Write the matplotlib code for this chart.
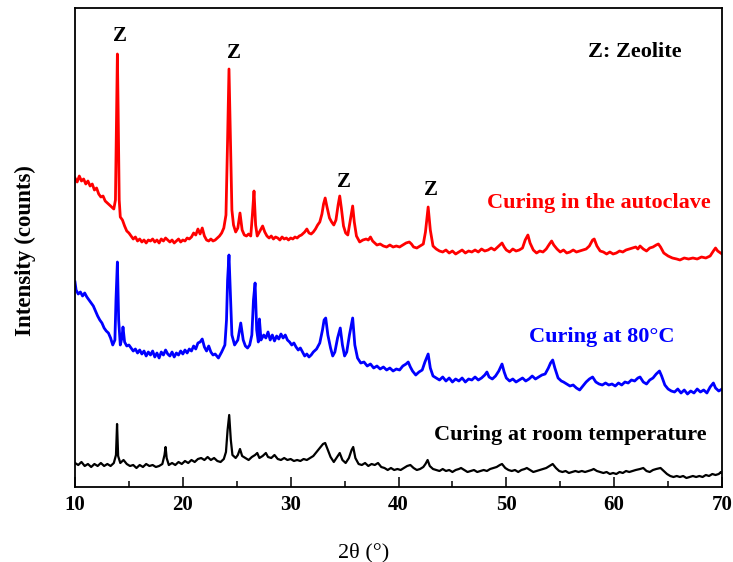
import matplotlib
matplotlib.use("Agg")
import matplotlib.pyplot as plt
from matplotlib.ticker import MultipleLocator

plt.rcParams['font.family'] = ['Liberation Serif', 'DejaVu Serif']

# ---- data: 2theta (deg) and intensity (counts, a.u.) ----
autoclave_2theta = [10.0, 10.2, 10.4, 10.6, 10.8, 11.0, 11.2, 11.4, 11.6, 11.8, 12.0, 12.2, 12.4, 12.6, 12.8, 13.0, 13.2, 13.4, 13.6, 13.75, 13.85, 13.93, 14.0, 14.1, 14.2, 14.4, 14.6, 14.8, 15.0, 15.2, 15.4, 15.6, 15.8, 16.0, 16.2, 16.4, 16.6, 16.8, 17.0, 17.2, 17.4, 17.6, 17.8, 18.0, 18.2, 18.4, 18.6, 18.8, 19.0, 19.2, 19.4, 19.6, 19.8, 20.0, 20.2, 20.4, 20.6, 20.8, 21.0, 21.2, 21.4, 21.6, 21.8, 22.0, 22.2, 22.4, 22.6, 22.8, 23.0, 23.2, 23.4, 23.6, 23.8, 24.0, 24.15, 24.28, 24.4, 24.55, 24.7, 24.9, 25.1, 25.3, 25.5, 25.7, 25.9, 26.1, 26.3, 26.45, 26.6, 26.75, 26.9, 27.1, 27.4, 27.6, 27.8, 28.0, 28.2, 28.4, 28.6, 28.8, 29.0, 29.2, 29.4, 29.6, 29.8, 30.0, 30.2, 30.4, 30.6, 30.8, 31.0, 31.3, 31.5, 31.7, 31.9, 32.1, 32.3, 32.5, 32.7, 32.9, 33.05, 33.2, 33.35, 33.6, 33.8, 34.0, 34.2, 34.4, 34.55, 34.7, 34.9, 35.1, 35.3, 35.5, 35.75, 35.9, 36.1, 36.4, 36.7, 37.0, 37.2, 37.4, 37.6, 37.8, 38.0, 38.3, 38.6, 38.9, 39.2, 39.5, 39.8, 40.1, 40.4, 40.7, 41.0, 41.2, 41.4, 41.7, 42.0, 42.3, 42.5, 42.75, 42.95, 43.2, 43.5, 43.8, 44.1, 44.4, 44.7, 45.0, 45.3, 45.6, 45.9, 46.2, 46.5, 46.8, 47.1, 47.4, 47.7, 48.0, 48.3, 48.6, 48.9, 49.2, 49.4, 49.6, 49.8, 50.0, 50.3, 50.6, 50.9, 51.2, 51.5, 51.75, 52.0, 52.2, 52.5, 52.8, 53.1, 53.4, 53.7, 54.0, 54.2, 54.4, 54.7, 55.0, 55.3, 55.6, 55.9, 56.2, 56.5, 56.8, 57.1, 57.4, 57.7, 58.0, 58.15, 58.4, 58.7, 59.0, 59.3, 59.6, 59.9, 60.2, 60.5, 60.8, 61.1, 61.4, 61.7, 62.0, 62.2, 62.4, 62.7, 63.0, 63.3, 63.6, 63.9, 64.1, 64.3, 64.6, 65.0, 65.4, 65.8, 66.1, 66.5, 66.9, 67.3, 67.7, 68.1, 68.5, 68.9, 69.2, 69.4, 69.6, 70.0]
autoclave_counts = [322, 318, 324, 319, 321, 316, 319, 314, 316, 310, 312, 306, 303, 304, 299, 297, 295, 293, 291, 300, 380, 446, 390, 300, 283, 280, 274, 269, 267, 264, 261, 263, 259, 261, 258, 260, 257, 260, 259, 261, 258, 260, 257, 261, 259, 262, 260, 258, 260, 257, 259, 261, 258, 260, 259, 262, 261, 263, 267, 265, 271, 266, 272, 264, 260, 259, 261, 259, 260, 262, 264, 267, 272, 285, 360, 431, 370, 290, 275, 268, 272, 287, 270, 265, 264, 266, 264, 285, 309, 275, 264, 268, 274, 268, 264, 262, 264, 261, 263, 262, 260, 263, 261, 262, 260, 262, 261, 263, 262, 264, 265, 268, 271, 267, 266, 268, 271, 275, 278, 286, 296, 302, 294, 282, 278, 275, 280, 295, 304, 292, 274, 267, 265, 278, 294, 278, 264, 258, 260, 261, 260, 263, 259, 257, 255, 256, 254, 253, 255, 253, 254, 253, 255, 257, 258, 256, 253, 252, 254, 256, 268, 293, 270, 254, 251, 249, 248, 250, 247, 249, 246, 248, 250, 247, 249, 248, 250, 248, 251, 249, 250, 252, 250, 253, 255, 257, 253, 250, 248, 251, 249, 250, 252, 260, 265, 257, 250, 247, 249, 248, 251, 256, 259, 255, 251, 248, 250, 247, 248, 250, 248, 249, 250, 251, 254, 260, 261, 254, 249, 248, 246, 248, 246, 247, 249, 248, 250, 251, 252, 253, 251, 254, 251, 249, 252, 253, 255, 256, 253, 247, 244, 242, 241, 240, 242, 241, 242, 241, 243, 242, 244, 249, 252, 249, 246]

c80_2theta = [10.0, 10.1, 10.3, 10.5, 10.7, 10.9, 11.1, 11.3, 11.5, 11.7, 11.9, 12.1, 12.3, 12.5, 12.7, 12.9, 13.1, 13.3, 13.5, 13.7, 13.8, 13.93, 14.05, 14.2, 14.35, 14.45, 14.6, 14.8, 15.0, 15.2, 15.4, 15.6, 15.8, 16.0, 16.2, 16.4, 16.6, 16.8, 17.0, 17.2, 17.4, 17.6, 17.8, 18.0, 18.2, 18.4, 18.6, 18.8, 19.0, 19.2, 19.4, 19.6, 19.8, 20.0, 20.2, 20.4, 20.6, 20.8, 21.0, 21.2, 21.4, 21.6, 21.8, 22.0, 22.2, 22.4, 22.6, 22.8, 23.0, 23.3, 23.6, 23.9, 24.05, 24.15, 24.28, 24.4, 24.55, 24.8, 25.1, 25.37, 25.6, 25.8, 26.0, 26.2, 26.4, 26.55, 26.7, 26.85, 27.0, 27.1, 27.25, 27.5, 27.7, 27.9, 28.1, 28.3, 28.5, 28.7, 28.9, 29.1, 29.3, 29.5, 29.7, 29.9, 30.1, 30.3, 30.5, 30.7, 30.9, 31.1, 31.3, 31.5, 31.7, 31.9, 32.1, 32.4, 32.7, 32.95, 33.1, 33.25, 33.45, 33.7, 33.9, 34.1, 34.35, 34.6, 34.8, 35.0, 35.2, 35.45, 35.75, 35.95, 36.2, 36.5, 36.8, 37.1, 37.4, 37.7, 38.0, 38.3, 38.6, 38.9, 39.2, 39.5, 39.8, 40.1, 40.4, 40.7, 40.9, 41.1, 41.3, 41.6, 41.9, 42.2, 42.45, 42.75, 42.95, 43.2, 43.5, 43.8, 44.1, 44.4, 44.7, 45.0, 45.3, 45.6, 45.9, 46.2, 46.5, 46.8, 47.1, 47.4, 47.7, 48.0, 48.2, 48.4, 48.7, 49.0, 49.3, 49.6, 49.8, 50.0, 50.3, 50.6, 50.9, 51.2, 51.5, 51.8, 52.1, 52.4, 52.7, 53.0, 53.3, 53.6, 53.9, 54.1, 54.3, 54.5, 54.8, 55.1, 55.3, 55.6, 55.9, 56.2, 56.5, 56.8, 57.1, 57.4, 57.7, 58.0, 58.3, 58.6, 58.9, 59.2, 59.5, 59.8, 60.1, 60.4, 60.7, 61.0, 61.3, 61.6, 61.9, 62.2, 62.4, 62.7, 63.0, 63.3, 63.6, 63.9, 64.2, 64.4, 64.7, 65.0, 65.3, 65.6, 65.9, 66.2, 66.5, 66.8, 67.1, 67.4, 67.7, 68.0, 68.3, 68.6, 68.9, 69.2, 69.4, 69.7, 70.0]
c80_counts = [218, 210, 206, 208, 204, 207, 203, 200, 197, 194, 189, 184, 180, 177, 172, 169, 167, 162, 155, 160, 200, 238, 180, 155, 162, 173, 158, 154, 155, 152, 149, 151, 147, 150, 146, 149, 144, 148, 145, 149, 143, 147, 142, 148, 145, 150, 146, 144, 148, 143, 147, 145, 149, 146, 150, 147, 151, 149, 154, 151, 157, 158, 161, 153, 149, 154, 148, 145, 146, 142, 148, 155, 180, 220, 245, 210, 165, 155, 160, 177, 160, 154, 152, 155, 165, 200, 217, 170, 158, 181, 160, 165, 162, 168, 160, 165, 159, 164, 161, 166, 162, 165, 160, 158, 155, 157, 153, 150, 152, 148, 144, 146, 143, 145, 148, 151, 157, 170, 180, 182, 165, 152, 144, 148, 162, 172, 155, 144, 148, 165, 182, 155, 142, 137, 138, 134, 136, 132, 134, 131, 133, 130, 132, 129, 131, 130, 134, 136, 138, 133, 129, 125, 128, 130, 138, 146, 132, 124, 122, 120, 123, 119, 122, 118, 121, 119, 122, 118, 121, 120, 123, 120, 122, 125, 128, 123, 121, 124, 129, 136, 128, 122, 119, 121, 118, 120, 122, 119, 121, 124, 121, 123, 125, 126, 132, 137, 140, 132, 122, 119, 118, 116, 114, 115, 112, 110, 114, 118, 121, 123, 118, 116, 115, 117, 115, 116, 114, 117, 115, 118, 117, 120, 119, 122, 123, 118, 116, 120, 122, 126, 129, 124, 115, 111, 109, 108, 111, 107, 110, 106, 109, 107, 111, 108, 110, 107, 113, 117, 112, 109, 111]

room_2theta = [10.0, 10.3, 10.6, 10.9, 11.2, 11.5, 11.8, 12.1, 12.4, 12.7, 13.0, 13.3, 13.6, 13.8, 13.9, 14.0, 14.2, 14.5, 14.8, 15.1, 15.4, 15.7, 16.0, 16.3, 16.6, 16.9, 17.2, 17.5, 17.8, 18.1, 18.3, 18.4, 18.5, 18.7, 19.0, 19.3, 19.6, 19.9, 20.2, 20.5, 20.8, 21.1, 21.4, 21.7, 22.0, 22.3, 22.6, 22.9, 23.2, 23.5, 23.8, 24.0, 24.15, 24.3, 24.45, 24.6, 24.9, 25.1, 25.3, 25.5, 25.8, 26.1, 26.4, 26.7, 26.9, 27.1, 27.4, 27.7, 27.9, 28.2, 28.5, 28.8, 29.1, 29.4, 29.7, 30.0, 30.3, 30.6, 30.9, 31.2, 31.5, 31.8, 32.1, 32.4, 32.7, 33.0, 33.2, 33.45, 33.7, 34.0, 34.3, 34.55, 34.8, 35.1, 35.4, 35.65, 35.8, 36.0, 36.3, 36.6, 36.9, 37.2, 37.5, 37.8, 38.1, 38.4, 38.7, 39.0, 39.3, 39.6, 39.9, 40.2, 40.5, 40.8, 41.1, 41.4, 41.7, 42.0, 42.3, 42.5, 42.7, 42.9, 43.2, 43.5, 43.8, 44.1, 44.4, 44.7, 45.0, 45.3, 45.6, 45.8, 46.1, 46.4, 46.7, 47.0, 47.3, 47.6, 47.9, 48.2, 48.5, 48.8, 49.1, 49.4, 49.6, 49.9, 50.2, 50.5, 50.8, 51.1, 51.4, 51.7, 51.9, 52.2, 52.5, 52.8, 53.1, 53.4, 53.7, 54.0, 54.3, 54.6, 54.9, 55.2, 55.5, 55.8, 56.1, 56.4, 56.7, 57.0, 57.3, 57.6, 57.9, 58.1, 58.4, 58.7, 59.0, 59.3, 59.6, 59.9, 60.2, 60.5, 60.8, 61.1, 61.4, 61.7, 62.0, 62.4, 62.7, 63.0, 63.3, 63.6, 63.9, 64.3, 64.6, 64.9, 65.2, 65.5, 65.8, 66.1, 66.4, 66.7, 67.0, 67.3, 67.6, 67.9, 68.2, 68.5, 68.8, 69.1, 69.4, 69.7, 69.9, 70.0]
room_counts = [37, 35, 38, 34, 36, 33, 36, 34, 37, 34, 36, 34, 37, 45, 76, 44, 37, 40, 36, 34, 35, 32, 35, 33, 36, 34, 35, 33, 34, 36, 45, 53, 42, 35, 37, 35, 38, 36, 39, 37, 40, 38, 41, 42, 40, 43, 40, 42, 39, 38, 41, 48, 70, 85, 60, 45, 42, 45, 51, 44, 42, 40, 43, 45, 47, 42, 44, 47, 43, 42, 45, 41, 40, 42, 40, 41, 39, 40, 39, 41, 40, 42, 44, 48, 52, 56, 57, 50, 43, 38, 43, 47, 40, 37, 42, 50, 53, 42, 36, 35, 37, 34, 36, 35, 37, 33, 32, 30, 32, 30, 31, 30, 32, 34, 35, 32, 30, 31, 33, 36, 40, 34, 31, 30, 29, 31, 29, 30, 28, 30, 31, 32, 30, 28, 29, 30, 28, 29, 30, 29, 31, 32, 33, 35, 36, 32, 30, 29, 30, 28, 30, 31, 32, 30, 28, 29, 30, 31, 32, 34, 36, 32, 29, 28, 29, 27, 28, 29, 28, 29, 28, 29, 30, 31, 29, 28, 27, 28, 26, 27, 26, 28, 27, 29, 28, 29, 30, 31, 32, 29, 28, 30, 31, 32, 29, 26, 24, 23, 24, 23, 24, 22, 23, 24, 23, 24, 23, 25, 24, 26, 25, 26, 28, 27]

series_labels = ["Curing in the autoclave", "Curing at 80\u00b0C", "Curing at room temperature"]
series_colors = ["#ff0000", "#0000ff", "#000000"]
x_ticks = [10, 20, 30, 40, 50, 60, 70]

# ---- figure ----
fig = plt.figure(figsize=(7.33, 5.62), dpi=100)
ax = fig.add_axes([75/733, 1-487/562, (722-75)/733, (487-8)/562])

ax.plot(autoclave_2theta, autoclave_counts, color=series_colors[0], lw=2.0, solid_joinstyle='round')
ax.plot(c80_2theta, c80_counts, color=series_colors[1], lw=2.0, solid_joinstyle='round')
ax.plot(room_2theta, room_counts, color=series_colors[2], lw=1.6, solid_joinstyle='round')

ax.set_xlim(10, 70)
ax.set_ylim(13, 492)
ax.set_xticks(x_ticks)
ax.xaxis.set_minor_locator(MultipleLocator(5))
ax.set_yticks([])
ax.tick_params(axis='x', which='major', direction='in', length=7, width=1.1, pad=6,
               labelsize=15, top=False)
ax.tick_params(axis='x', which='minor', direction='in', length=4, width=1.1, top=False)
for lab in ax.get_xticklabels():
    lab.set_fontweight('bold')
for s in ax.spines.values():
    s.set_linewidth(1.3)

bold = dict(fontweight='bold', ha='center', va='center')
# Z markers
ax.text(14.2, 464, "Z", fontsize=15, color='black', **bold)
ax.text(24.75, 447, "Z", fontsize=15, color='black', **bold)
ax.text(34.95, 318, "Z", fontsize=15, color='black', **bold)
ax.text(42.99, 310, "Z", fontsize=15, color='black', **bold)
ax.text(61.93, 448, "Z: Zeolite", fontsize=16, color='black', **bold)

ax.text(58.55, 297, series_labels[0], fontsize=16, color=series_colors[0], **bold)
ax.text(58.87, 163, series_labels[1], fontsize=16, color=series_colors[1], **bold)
ax.text(55.9, 65, series_labels[2], fontsize=16, color=series_colors[2], **bold)

fig.text(364/733, 1-553/562, "2\u03b8 (\u00b0)", fontsize=16, ha='center', va='center')
fig.text(25/733, 1-251/562, "Intensity (counts)", fontsize=16.5, fontweight='bold',
         rotation=90, ha='center', va='center')

fig.savefig("out.png", dpi=100)
